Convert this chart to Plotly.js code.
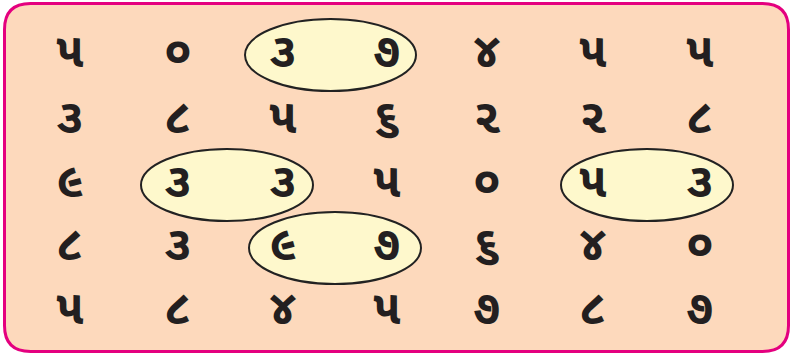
<!DOCTYPE html>
<html><head><meta charset="utf-8">
<script src="https://cdn.plot.ly/plotly-3.0.1.min.js"></script>
<style>html,body{margin:0;padding:0;background:#fff;}</style>
</head><body><div id="chart" style="width:791px;height:354px;"></div>
<script>
// Grid of Gujarati digits (rows top to bottom, columns left to right)
const row1 = ["૫", "૦", "૩", "૭", "૪", "૫", "૫"];
const row2 = ["૩", "૮", "૫", "૬", "૨", "૨", "૮"];
const row3 = ["૯", "૩", "૩", "૫", "૦", "૫", "૩"];
const row4 = ["૮", "૩", "૯", "૭", "૬", "૪", "૦"];
const row5 = ["૫", "૮", "૪", "૫", "૭", "૮", "૭"];
const rows = [row1, row2, row3, row4, row5];
// Circled pairs: row index, first column index, second column index
const pairRows = [0, 2, 2, 3];
const pairStart = [2, 1, 5, 2];
const pairEnd = [3, 2, 6, 3];

// layout (pixel positions)
const colX = [70, 178, 283, 387, 487, 593, 700];
const rowY = [55, 121, 185, 248, 312];
const padL = [38, 37, 32, 34], padR = [29, 30, 33, 34];

const xs = [], ys = [], ts = [];
rows.forEach((r, i) => r.forEach((d, j) => { xs.push(colX[j]); ys.push(rowY[i]); ts.push(d); }));

const shapes = [];
const L = 4.5, R = 788.5, T = 3.5, B = 351.5, rad = 26;
shapes.push({
  type: 'path', layer: 'below',
  path: `M ${L+rad} ${T} L ${R-rad} ${T} Q ${R} ${T} ${R} ${T+rad} L ${R} ${B-rad} Q ${R} ${B} ${R-rad} ${B} L ${L+rad} ${B} Q ${L} ${B} ${L} ${B-rad} L ${L} ${T+rad} Q ${L} ${T} ${L+rad} ${T} Z`,
  fillcolor: '#fdd9bc', line: {color: '#e4007f', width: 3}
});
pairRows.forEach((ri, k) => {
  const x0 = colX[pairStart[k]] - padL[k], x1 = colX[pairEnd[k]] + padR[k];
  const y = rowY[ri];
  shapes.push({type: 'circle', layer: 'below', x0: x0, x1: x1, y0: y - 36, y1: y + 36,
    fillcolor: '#fef8cc', line: {color: '#222', width: 2}});
});

Plotly.newPlot('chart', [{
  type: 'scatter', mode: 'text', x: xs, y: ys, text: ts,
  textfont: {size: 48, weight: 'bold', color: '#231f20', family: 'Noto Sans Gujarati, Noto Sans, sans-serif'},
  hoverinfo: 'none'
}], {
  width: 791, height: 354, margin: {l: 0, r: 0, t: 0, b: 0},
  paper_bgcolor: '#fff', plot_bgcolor: 'rgba(0,0,0,0)', showlegend: false,
  xaxis: {range: [0, 791], visible: false, fixedrange: true},
  yaxis: {range: [354, 0], visible: false, fixedrange: true},
  shapes: shapes
}, {staticPlot: true});
</script></body></html>
